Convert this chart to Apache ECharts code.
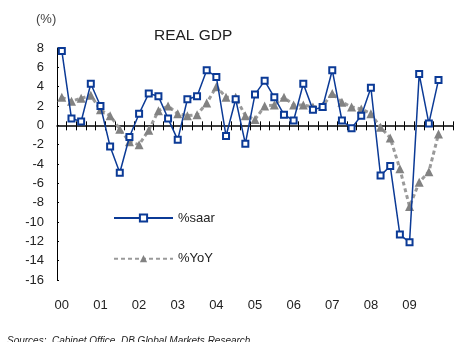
<!DOCTYPE html>
<html>
<head>
<meta charset="utf-8">
<script src="https://cdn.jsdelivr.net/npm/echarts@6/dist/echarts.min.js"></script>
<style>
  html, body { margin: 0; padding: 0; background: #fff; }
  #chart { width: 458px; height: 342px; }
</style>
</head>
<body>
<div id="chart"></div>
<script>
// Japan real GDP growth, quarterly 2000 Q1 - 2009 Q4
const years = ['00', '01', '02', '03', '04', '05', '06', '07', '08', '09'];
const quarterNames = ['Q1', 'Q2', 'Q3', 'Q4'];

// q/q seasonally adjusted annualised rate (%)
const saar = [
  7.7, 0.7, 0.4, 4.3,
  2.0, -2.2, -4.9, -1.2,
  1.2, 3.3, 3.0, 0.7,
  -1.5, 2.7, 3.0, 5.7,
  5.0, -1.1, 2.7, -1.9,
  3.2, 4.6, 2.9, 1.1,
  0.5, 4.3, 1.6, 1.9,
  5.7, 0.5, -0.3, 1.0,
  3.9, -5.2, -4.2, -11.3,
  -12.1, 5.3, 0.2, 4.7
];

// year-on-year change (%)
const yoy = [
  2.9, 2.5, 2.8, 3.1,
  1.6, 1.0, -0.4, -1.7,
  -2.0, -0.5, 1.5, 2.0,
  1.2, 1.0, 1.1, 2.3,
  4.0, 2.9, 2.9, 1.0,
  0.6, 2.0, 2.1, 2.9,
  2.1, 2.1, 1.9, 2.0,
  3.3, 2.4, 1.9, 1.7,
  1.2, -0.2, -1.3, -4.5,
  -8.4, -5.9, -4.8, -0.9
];

const yAxisRange = { min: -16, max: 8, step: 2 };

// one category per quarter, plus a spare slot at the right end of the axis
const categories = [];
years.forEach(y => quarterNames.forEach(q => categories.push(y + ' ' + q)));
categories.push('');

const FONT = "'Liberation Sans', Arial, sans-serif";
const BLUE = '#0b3a96';
const GREY = '#828282';

const chart = echarts.init(document.getElementById('chart'), null, { renderer: 'canvas' });

chart.setOption({
  animation: false,
  backgroundColor: '#fff',
  textStyle: { fontFamily: FONT },
  title: [
    {
      text: 'REAL GDP', left: 154, top: 28, padding: 0,
      textStyle: { fontSize: 15.5, fontWeight: 'normal', color: '#222', fontFamily: FONT }
    },
    {
      text: '(%)', left: 36, top: 13, padding: 0,
      textStyle: { fontSize: 13, fontWeight: 'normal', color: '#444', fontFamily: FONT }
    },
    {
      text: 'Sources:  Cabinet Office, DB Global Markets Research', left: 7, top: 336, padding: 0,
      textStyle: { fontSize: 10, fontStyle: 'italic', fontWeight: 'normal', color: '#222', fontFamily: FONT }
    }
  ],
  legend: {
    data: ['%saar', '%YoY'],
    orient: 'vertical',
    left: 113, top: 211.5,
    padding: 0,
    itemWidth: 59, itemHeight: 9, itemGap: 27.7,
    textStyle: { fontSize: 13, color: '#222', fontFamily: FONT }
  },
  grid: { left: 57, right: 5, top: 48, bottom: 62, containLabel: false, outerBoundsMode: 'none' },
  xAxis: [
    {
      // zero line with downward ticks; year labels sit below the plot area
      type: 'category', data: categories, position: 'bottom', boundaryGap: true,
      axisLine: { onZero: true, onZeroAxisIndex: 0, lineStyle: { color: '#000', width: 1.5 } },
      axisTick: { show: true, interval: 0, length: 5, lineStyle: { color: '#000', width: 1 } },
      axisLabel: {
        interval: 0, margin: 19, fontSize: 13, color: '#222', fontFamily: FONT,
        formatter: (v, i) => (i % 4 === 0 && v) ? v.slice(0, 2) : ''
      },
      splitLine: { show: false }
    },
    {
      // upward half of the crossing ticks on the zero line
      type: 'category', data: categories, position: 'top', boundaryGap: true,
      axisLine: { show: false, onZero: true, onZeroAxisIndex: 1 },
      axisTick: { show: true, interval: 0, length: 4, lineStyle: { color: '#000', width: 1 } },
      axisLabel: { show: false },
      splitLine: { show: false }
    }
  ],
  yAxis: [
    {
      type: 'value', min: yAxisRange.min, max: yAxisRange.max, interval: yAxisRange.step,
      axisLine: { show: true, lineStyle: { color: '#000', width: 1 } },
      axisTick: { show: true, inside: true, length: 2, lineStyle: { color: '#000' } },
      axisLabel: { margin: 13, fontSize: 13, color: '#222', fontFamily: FONT, padding: [0, 0, 7, 0] },
      splitLine: { show: false }
    },
    {
      type: 'value', min: yAxisRange.min, max: yAxisRange.max, interval: yAxisRange.step,
      axisLine: { show: false }, axisTick: { show: false }, axisLabel: { show: false },
      splitLine: { show: false }
    }
  ],
  series: [
    {
      name: '%YoY', type: 'line', data: yoy, xAxisIndex: 0, yAxisIndex: 0,
      symbol: 'triangle', symbolSize: 9, z: 2,
      itemStyle: { color: GREY },
      lineStyle: { color: '#9a9a9a', width: 3, type: [4, 3] }
    },
    {
      name: '%saar', type: 'line', data: saar, xAxisIndex: 0, yAxisIndex: 0,
      symbol: 'emptyRect', symbolSize: 6, z: 3,
      itemStyle: { color: BLUE, borderWidth: 2 },
      lineStyle: { color: BLUE, width: 1.5 }
    }
  ]
});
</script>
</body>
</html>
